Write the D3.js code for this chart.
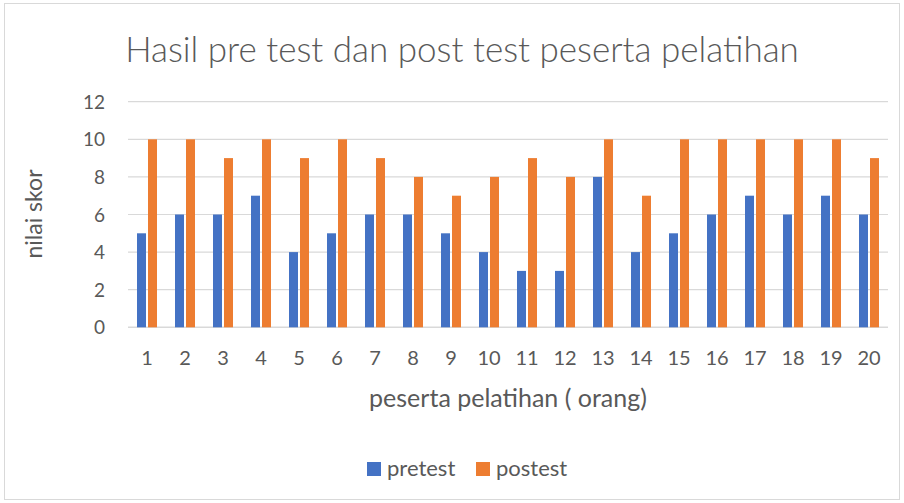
<!DOCTYPE html>
<html>
<head>
<meta charset="utf-8">
<script src="https://cdn.jsdelivr.net/npm/d3@7"></script>
<style>
  body { margin: 0; background: #fff; }
  text { font-family: Lato, "Open Sans", sans-serif; fill: #595959; }
</style>
</head>
<body>
<svg id="chart" width="904" height="503"></svg>
<script>
// chart data
var peserta = ["1","2","3","4","5","6","7","8","9","10","11","12","13","14","15","16","17","18","19","20"];
var pretest = [5,6,6,7,4,5,6,6,5,4,3,3,8,4,5,6,7,6,7,6];
var postest = [10,10,9,10,9,10,9,8,7,8,9,8,10,7,10,10,10,10,10,9];
var yTicks = [0,2,4,6,8,10,12];
var seriesNames = ["pretest", "postest"];
var seriesColors = ["#4472C4", "#ED7D31"];

var svg = d3.select("#chart");

// outer chart border
svg.append("rect")
  .attr("x", 4.5).attr("y", 3.5)
  .attr("width", 895).attr("height", 496)
  .attr("fill", "#fff")
  .attr("stroke", "#d9d9d9");

var plot = { left: 128, right: 888, top: 101.7, bottom: 327.3 };

var x = d3.scaleBand().domain(peserta).range([plot.left, plot.right]);
var y = d3.scaleLinear().domain([0, 12]).range([plot.bottom, plot.top]);

// gridlines
svg.append("g")
  .selectAll("line")
  .data(yTicks)
  .enter().append("line")
  .attr("x1", plot.left).attr("x2", plot.right)
  .attr("y1", function(d) { return y(d); })
  .attr("y2", function(d) { return y(d); })
  .attr("stroke", "#d9d9d9")
  .attr("stroke-width", function(d) { return d == 0 ? 1.5 : 1.2; });

// bars
var barW = 9;
var rows = peserta.map(function(p, i) { return { p: p, vals: [pretest[i], postest[i]] }; });
rows.forEach(function(r) {
  var cx = x(r.p) + x.bandwidth() / 2;
  svg.append("g")
    .selectAll("rect")
    .data(r.vals)
    .enter().append("rect")
    .attr("x", function(d, j) { return j == 0 ? cx - 10 : cx + 1; })
    .attr("y", function(d) { return y(d); })
    .attr("width", barW)
    .attr("height", function(d) { return y(0) - y(d); })
    .attr("fill", function(d, j) { return seriesColors[j]; });
});

// y axis labels
var yAxis = svg.append("g")
  .attr("transform", "translate(" + (plot.left - 23) + ",0)")
  .call(d3.axisLeft(y).tickValues(yTicks).tickSize(0).tickPadding(0));
yAxis.select(".domain").remove();
yAxis.selectAll("text")
  .style("font-size", "19px")
  .style("font-family", "Lato, sans-serif")
  .attr("fill", "#595959")
  .attr("dy", "0.35em");

// x axis labels
var xAxis = svg.append("g")
  .attr("transform", "translate(0," + (plot.bottom + 23) + ")")
  .call(d3.axisBottom(x).tickSize(0).tickPadding(0));
xAxis.select(".domain").remove();
xAxis.selectAll("text")
  .style("font-size", "20px")
  .style("font-family", "Lato, sans-serif")
  .attr("fill", "#595959")
  .attr("dy", "0.71em");

// title
svg.append("text")
  .attr("x", 462).attr("y", 62)
  .attr("text-anchor", "middle")
  .style("font-size", "35px")
  .style("font-weight", 300)
  .text("Hasil pre test dan post test peserta pelatihan");

// axis titles
svg.append("text")
  .attr("x", 508).attr("y", 407)
  .attr("text-anchor", "middle")
  .style("font-size", "25px")
  .text("peserta pelatihan ( orang)");

svg.append("text")
  .attr("transform", "translate(42,214) rotate(-90)")
  .attr("text-anchor", "middle")
  .style("font-size", "23px")
  .text("nilai skor");

// legend
var legendX = [367, 476];
var legend = svg.append("g")
  .selectAll("g")
  .data(seriesNames)
  .enter().append("g")
  .attr("transform", function(d, i) { return "translate(" + legendX[i] + ",462)"; });
legend.append("rect")
  .attr("width", 14).attr("height", 14)
  .attr("fill", function(d, i) { return seriesColors[i]; });
legend.append("text")
  .attr("x", 20).attr("y", 14)
  .style("font-size", "22px")
  .text(function(d) { return d; });
</script>
</body>
</html>
